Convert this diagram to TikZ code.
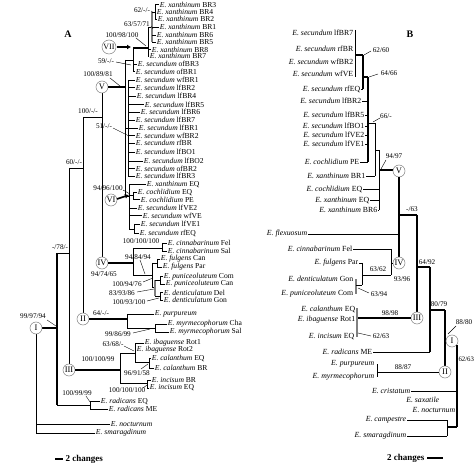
\documentclass[tikz,border=0pt]{standalone}
\usepackage{fontspec}
\setmainfont{Liberation Serif}
\usetikzlibrary{arrows.meta}
\newcommand{\Ep}[1]{\textit{E.~#1}}
\tikzset{
 br/.style={line width=0.6pt},
 tk/.style={line width=1.4pt},
 ld/.style={line width=0.4pt},
 lab/.style={font=\fontsize{7.6}{7.6}\selectfont, inner sep=0.6pt, anchor=west},
 labr/.style={font=\fontsize{7.8}{7.8}\selectfont, inner sep=0.6pt, anchor=east},
 num/.style={font=\fontsize{7.2}{7.2}\selectfont, inner sep=0pt},
 rn/.style={circle, draw=gray, line width=0.5pt, fill=white, minimum size=12pt, inner sep=0pt, font=\fontsize{8.5}{8.5}\selectfont},
 ttl/.style={font=\bfseries\fontsize{10}{10}\selectfont},
 sc/.style={font=\bfseries\fontsize{9}{9}\selectfont, inner sep=0.5pt}
}
\newcommand{\tipA}[5]{\draw[br] (#1,#2) -- (#3,#2) node[lab]{\Ep{#4} #5};}
\newcommand{\tipB}[5]{\draw[br] (#3,#2) -- (#1,#2); \node[labr] at (#3,#2) {\Ep{#4} #5};}
\begin{document}
\begin{tikzpicture}[x=1pt,y=-1pt]
\useasboundingbox (0,0) rectangle (474,465);
\node[ttl] (titleA) at (68,34) {A};
\node[ttl] (titleB) at (410,34) {B};

%% ---------------- Tree A ----------------
% root
\draw[br] (36,334) -- (36,433);
\tipA{36}{424}{110}{nocturnum}{}
\tipA{36}{433}{95}{smaragdinum}{}
\draw[tk] (36,328) -- (57,328);
\node[rn] (AI) at (36,328) {I};
\node[num] (nA1) at (33,316) {99/97/94};
\draw[ld] (47,320) -- (56,326);
% N1
\draw[tk] (57,253) -- (57,405);
\draw[br] (57,405) -- (90,405);
\draw[br] (90,401) -- (90,409);
\tipA{90}{401}{100}{radicans}{EQ}
\tipA{90}{409}{108}{radicans}{ME}
\node[num] (nA2) at (77,393) {100/99/99};
\draw[ld] (86,396) -- (90,402);
\draw[br] (57,253) -- (69,253);
\node[num] (nA3) at (60,247) {-/78/-};
% N2
\draw[br] (69,168) -- (69,364);
\draw[br] (69,168) -- (83,168);
\node[num] (nA4) at (74,162) {60/-/-};
\node[rn] (AIII) at (69,370) {III};
\draw[tk] (75,370) -- (120,370);
\node[num] (nA5) at (98,359) {100/100/99};
% N3
\draw[br] (83,117) -- (83,313);
\draw[br] (83,117) -- (102,117);
\node[num] (nA6) at (88,111) {100/-/-};
\node[rn] (AII) at (83,319) {II};
\draw[tk] (89,319) -- (127,319);
\node[num] (nA7) at (101,313) {64/-/-};
% N4
\draw[br] (102,93) -- (102,257);
\node[rn] (AV) at (102,87) {V};
\node[rn] (AIV) at (102,263) {IV};
\draw[tk] (108,87) -- (125,87);
\node[num] (nA8) at (98,74) {100/89/81};
\draw[ld] (110,78) -- (120,86);
\draw[tk] (108,263) -- (133,263);
\node[num] (nA9) at (104,274) {94/74/65};

% V clade
\draw[br] (125,60) -- (125,196);
\draw[br] (125,60) -- (133,60);
\draw[br] (133,48) -- (133,71);
\tipA{133}{64}{137}{secundum}{ofBR3}
\tipA{133}{71.5}{135}{secundum}{ofBR1}
\node[num] (nA10) at (106,61) {59/-/-};
\draw[ld] (116,62) -- (131,65);
% VII
\draw[tk] (133,48) -- (148,48);
\node[rn, minimum size=14pt, font=\fontsize{8}{8}\selectfont] (AVII) at (109,47) {VII};
\draw[-{Latex[length=4pt,width=5pt]}, line width=1.6pt] (117,47) -- (131,47);
\node[num] (nA11) at (122,35) {100/98/100};
\draw[ld] (136,38) -- (146,46);
\draw[br] (148,27) -- (148,56);
\tipA{148}{56}{149}{xanthinum}{BR7}
\tipA{148}{49.5}{151}{xanthinum}{BR8}
\draw[br] (148,27) -- (152,27);
\draw[gray, line width=2pt] (152,12) -- (152,42);
\tipA{152}{42}{156}{xanthinum}{BR5}
\tipA{152}{35}{156}{xanthinum}{BR6}
\tipA{152}{27}{159}{xanthinum}{BR1}
\draw[br] (152,12) -- (155,12);
\draw[br] (155,4) -- (155,19);
\tipA{155}{4.5}{159}{xanthinum}{BR3}
\tipA{155}{12}{156}{xanthinum}{BR4}
\tipA{155}{19}{157}{xanthinum}{BR2}
\node[num] (nA12) at (142,10) {62/-/-};
\draw[ld] (151,11) -- (154,13);
\node[num] (nA13) at (137,24) {63/57/71};
\draw[ld] (151,26) -- (153,29);
% polytomy
\draw[br] (125,128) -- (128,128);
\draw[br] (128,80) -- (128,176);
\tipA{128}{80}{135}{secundum}{wfBR1}
\tipA{128}{87.5}{135}{secundum}{lfBR2}
\tipA{128}{96}{136}{secundum}{lfBR4}
\tipA{128}{104.5}{144}{secundum}{lfBR5}
\tipA{128}{112}{140}{secundum}{lfBR6}
\tipA{128}{120}{135}{secundum}{lfBR7}
\tipA{128}{128}{138}{secundum}{lfBR1}
\tipA{128}{135.5}{135}{secundum}{wfBR2}
\tipA{128}{143}{135}{secundum}{rfBR}
\tipA{128}{152}{135}{secundum}{lfBO1}
\tipA{128}{161}{143}{secundum}{lfBO2}
\tipA{128}{168.5}{135}{secundum}{ofBR2}
\tipA{128}{176}{135}{secundum}{lfBR3}
\node[num] (nA14) at (104,126) {51/-/-};
\draw[ld] (113,128) -- (129,136);
% VI
\draw[br] (125,196) -- (129,196);
\draw[br] (129,184.5) -- (129,229);
\tipA{129}{184.5}{146}{xanthinum}{EQ}
\draw[br] (129,195) -- (133,195);
\draw[br] (133,192) -- (133,199);
\tipA{133}{192}{137}{cochlidium}{EQ}
\tipA{133}{199.5}{140}{cochlidium}{PE}
\tipA{129}{208}{137}{secundum}{lfVE2}
\tipA{129}{215.5}{142}{secundum}{wfVE}
\draw[br] (129,229) -- (134,229);
\draw[br] (134,224) -- (134,233);
\tipA{134}{224}{140}{secundum}{lfVE1}
\tipA{134}{233}{139}{secundum}{rfEQ}
\node[num] (nA15) at (108,188) {94/96/100};
\draw[ld] (123,190) -- (130,194);
\node[rn] (AVI) at (111,200) {VI};
\draw[-{Latex[length=4pt,width=5pt]}, line width=1.6pt] (117,199) -- (129,195);

% IV clade
\draw[br] (133,248) -- (133,275);
\draw[br] (133,248) -- (162,248);
\draw[br] (162,243) -- (162,251);
\tipA{162}{243}{167}{cinnabarinum}{Fel}
\tipA{162}{251}{167}{cinnabarinum}{Sal}
\node[num] (nA16) at (141,241) {100/100/100};
\draw[br] (133,275) -- (152,275);
\node[num] (nA17) at (138,257) {94/84/94};
\draw[ld] (140,260) -- (145,274);
\draw[br] (152,263) -- (152,287);
\draw[br] (152,263) -- (157,263);
\draw[br] (157,259) -- (157,267);
\tipA{157}{259}{160}{fulgens}{Can}
\tipA{157}{267}{162}{fulgens}{Par}
\draw[br] (152,287) -- (155,287);
\draw[gray, line width=1.6pt] (155,280) -- (155,296);
\draw[br] (155,280) -- (160,280);
\draw[br] (160,277) -- (160,284);
\tipA{160}{276.5}{163}{puniceoluteum}{Com}
\tipA{160}{284}{165}{puniceoluteum}{Can}
\draw[br] (155,296) -- (160,296);
\draw[br] (160,293) -- (160,300);
\tipA{160}{292.5}{163}{denticulatum}{Del}
\tipA{160}{300}{163}{denticulatum}{Gon}
\node[num] (nA18) at (127,284) {100/94/76};
\draw[ld] (143,282) -- (153,278);
\node[num] (nA19) at (122,293) {83/93/86};
\draw[ld] (137,292) -- (154,289);
\node[num] (nA20) at (129,302) {100/93/100};
\draw[ld] (147,301) -- (159,298);

% II clade
\draw[br] (127,314) -- (127,328);
\tipA{127}{314}{154}{purpureum}{}
\draw[br] (127,328) -- (155,328);
\draw[br] (155,324) -- (155,332);
\tipA{155}{324}{167}{myrmecophorum}{Cha}
\tipA{155}{332}{169}{myrmecophorum}{Sal}
\node[num] (nA21) at (118,334) {99/86/99};
\draw[ld] (133,333) -- (150,329);

% III clade
\draw[br] (120,353) -- (120,383);
\draw[br] (120,353) -- (135,353);
\draw[br] (135,343) -- (135,362);
\tipA{135}{343}{144}{ibaguense}{Rot1}
\tipA{135}{350}{136}{ibaguense}{Rot2}
\draw[br] (135,362) -- (149,362);
\draw[br] (149,358) -- (149,368);
\tipA{149}{358}{151}{calanthum}{EQ}
\tipA{149}{368}{154}{calanthum}{BR}
\draw[br] (120,383) -- (147,383);
\draw[br] (147,380) -- (147,388);
\tipA{147}{380}{151}{incisum}{BR}
\tipA{147}{388}{149}{incisum}{EQ}
\node[num] (nA22) at (113,344) {63/68/-};
\draw[ld] (124,346) -- (134,351);
\node[num] (nA23) at (137,373) {96/91/58};
\draw[ld] (141,369) -- (148,364);
\node[num] (nA24) at (127,390) {100/100/100};
\draw[ld] (143,388) -- (147,385);

% scale A
\draw[line width=1.4pt] (55,459) -- (63,459);
\node[sc, anchor=west] (scA) at (65,459) {2 changes};

%% ---------------- Tree B ----------------
\draw[br] (355,30) -- (355,77);
\node[labr] at (354,33) {\Ep{secundum} lfBR7};
\node[labr] at (354,49) {\Ep{secundum} rfBR};
\node[labr] at (354,62) {\Ep{secundum} wfBR2};
\node[labr] at (354,74) {\Ep{secundum} wfVE};
\draw[tk] (355,55) -- (363,55);
\node[num] (nB1) at (381,50) {62/60};
\draw[ld] (364,55) -- (371,51);
\draw[tk] (363,55) -- (363,89);
\tipB{363}{89}{361}{secundum}{rfEQ}
\draw[tk] (363,77) -- (368,77);
\node[num] (nB2) at (389,73) {64/66};
\draw[ld] (369,77) -- (378,74);
\draw[tk] (368,77) -- (368,162);
\tipB{368}{101}{362}{secundum}{lfBR2}
\tipB{368}{115}{365}{secundum}{lfBR5}
\tipB{368}{126}{365}{secundum}{lfBO1}
\tipB{368}{135}{365}{secundum}{lfVE2}
\tipB{368}{144}{365}{secundum}{lfVE1}
\tipB{368}{162}{360}{cochlidium}{PE}
\draw[br] (368,123) -- (375,123);
\node[num] (nB3) at (386,116) {66/-};
\draw[ld] (373,122) -- (380,118);
\draw[br] (375,123) -- (375,176);
\tipB{375}{176}{366}{xanthinum}{BR1}
\draw[br] (375,150) -- (379,150);
\draw[br] (379,150) -- (379,210);
\tipB{379}{189}{363}{cochlidium}{EQ}
\tipB{379}{200}{370}{xanthinum}{EQ}
\tipB{379}{210}{378}{xanthinum}{BR6}
\draw[tk] (379,170) -- (393,170);
\node[num] (nB4) at (394,156) {94/97};
\draw[ld] (386,160) -- (381,169);
\node[rn] (BV) at (399,171) {V};
\draw[tk] (399,177) -- (399,257);
\node[rn] (BIV) at (399,263) {IV};
\tipB{399}{234}{308}{flexuosum}{}
\draw[tk] (399,215) -- (417,215);
\node[num] (nB5) at (412,209) {-/63};
% IV clade
\tipB{391}{249}{353}{cinnabarinum}{Fel}
\draw[br] (391,249) -- (391,275);
\draw[br] (391,263) -- (393,263);
\draw[br] (362,275) -- (391,275);
\node[num] (nB6) at (378,269) {63/62};
\node[num] (nB7) at (402,279) {93/96};
\draw[br] (362,263) -- (362,285);
\tipB{362}{263}{359}{fulgens}{Par}
\draw[gray, line width=1.6pt] (356,279) -- (356,294);
\node[labr] at (354,279) {\Ep{denticulatum} Gon};
\node[labr] at (354,294) {\Ep{puniceoluteum} Com};
\draw[br] (356,285) -- (362,285);
\node[num] (nB8) at (379,294) {63/94};
\draw[ld] (358,288) -- (369,293);
% III
\draw[tk] (417,215) -- (417,312);
\node[rn] (BIII) at (417,318) {III};
\draw[tk] (357,318) -- (411,318);
\draw[gray, line width=1.6pt] (357,308) -- (357,337);
\node[labr] at (356,309) {\Ep{calanthum} EQ};
\node[labr] at (356,320) {\Ep{ibaguense} Rot1};
\node[labr] at (355,337) {\Ep{incisum} EQ};
\node[num] (nB9) at (390,313) {98/98};
\node[num] (nB10) at (381,336) {62/63};
\draw[ld] (358,333) -- (371,336);
\draw[tk] (417,267) -- (430,267);
\node[num] (nB11) at (427,262) {64/92};
\draw[tk] (430,267) -- (430,352);
\tipB{430}{352}{373}{radicans}{ME}
\draw[tk] (430,310) -- (445,310);
\node[num] (nB12) at (439,304) {80/79};
\draw[tk] (445,310) -- (445,366);
\node[rn] (BII) at (445,372) {II};
\draw[br] (377,364) -- (377,377);
\node[labr] at (375,364) {\Ep{purpureum}};
\node[labr] at (375,377) {\Ep{myrmecophorum}};
\draw[br] (377,372) -- (439,372);
\node[num] (nB13) at (403,367) {88/87};
% I and root
\node[rn] (BI) at (452,341) {I};
\node[num] (nB14) at (464,322) {88/80};
\draw[ld] (456,326) -- (448,334);
\draw[tk] (457,345) -- (457,427);
\node[num, anchor=west, font=\fontsize{6.8}{6.8}\selectfont] (nB15) at (458.3,359) {62/63};
\tipB{457}{391}{411}{cristatum}{}
\node[labr] at (440,400) {\Ep{saxatile}};
\node[labr] at (456,410) {\Ep{nocturnum}};
\tipB{447}{420}{407}{campestre}{}
\tipB{447}{436}{407}{smaragdinum}{}
\draw[br] (447,420) -- (447,436);
\draw[tk] (447,427) -- (457,427);
% scale B
\node[sc, anchor=east] (scB) at (425,458) {2 changes};
\draw[line width=1.4pt] (427,458) -- (443,458);
\end{tikzpicture}
\end{document}
